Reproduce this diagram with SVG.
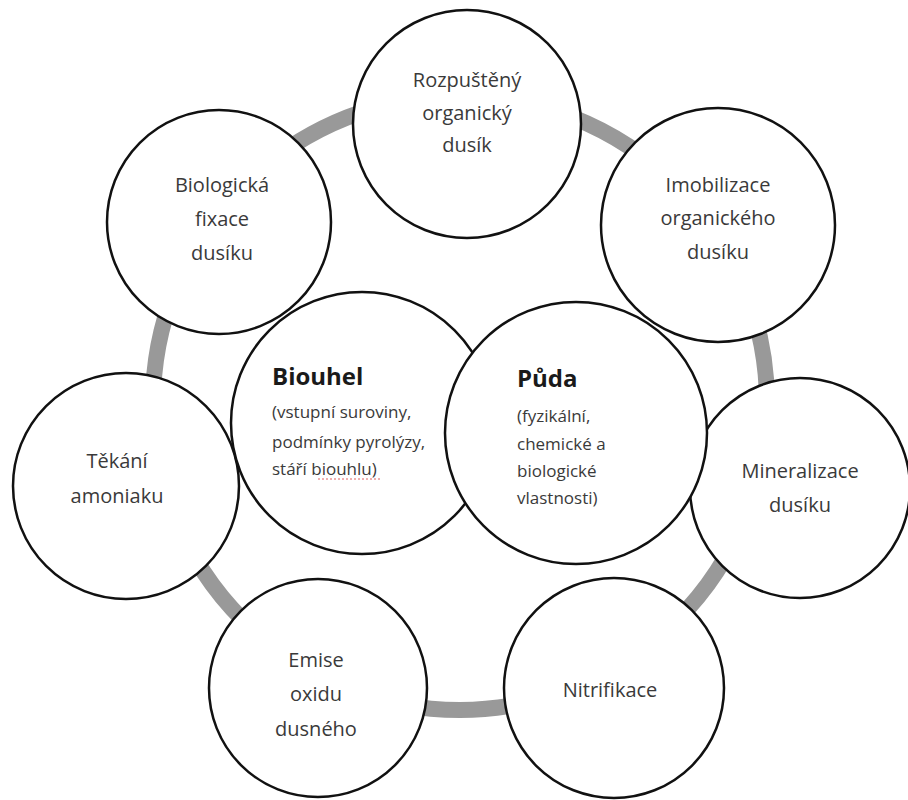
<svg xmlns="http://www.w3.org/2000/svg" width="908" height="800" viewBox="0 0 908 800">
<style>
.n{fill:#fff;stroke:#111;stroke-width:2.5}
.t{font-family:"Open Sans","Liberation Sans",sans-serif;font-size:20px;fill:#3a3a3a;text-anchor:middle}
.s{font-family:"Open Sans","Liberation Sans",sans-serif;font-size:17px;fill:#3a3a3a}
.b{font-family:"Open Sans","Liberation Sans",sans-serif;font-size:24px;font-weight:bold;fill:#1a1a1a}
</style>
<rect width="908" height="800" fill="#fff"/>
<g id="connectors">
<circle cx="460" cy="403" r="307" fill="none" stroke="#999" stroke-width="16"/>
</g>
<g id="rozpusteny">
<circle class="n" cx="467" cy="124" r="114"/>
<text class="t" x="467" y="87">Rozpuštěný</text>
<text class="t" x="467" y="120">organický</text>
<text class="t" x="467" y="152">dusík</text>
</g>
<g id="imobilizace">
<circle class="n" cx="718" cy="225" r="117"/>
<text class="t" x="718" y="192">Imobilizace</text>
<text class="t" x="718" y="225">organického</text>
<text class="t" x="718" y="259">dusíku</text>
</g>
<g id="fixace">
<circle class="n" cx="219" cy="222" r="112"/>
<text class="t" x="222" y="192">Biologická</text>
<text class="t" x="222" y="226">fixace</text>
<text class="t" x="222" y="260">dusíku</text>
</g>
<g id="tekani">
<circle class="n" cx="126" cy="486" r="113"/>
<text class="t" x="117" y="468">Těkání</text>
<text class="t" x="117" y="503">amoniaku</text>
</g>
<g id="mineralizace">
<circle class="n" cx="800" cy="488" r="110"/>
<text class="t" x="800" y="478">Mineralizace</text>
<text class="t" x="800" y="512">dusíku</text>
</g>
<g id="nitrifikace">
<circle class="n" cx="614" cy="688" r="110"/>
<text class="t" x="610" y="697">Nitrifikace</text>
</g>
<g id="emise">
<circle class="n" cx="318" cy="688" r="109"/>
<text class="t" x="316" y="667">Emise</text>
<text class="t" x="316" y="701">oxidu</text>
<text class="t" x="316" y="736">dusného</text>
</g>
<g id="biouhel">
<circle class="n" cx="362" cy="423" r="131"/>
<text class="b" x="272" y="385">Biouhel</text>
<text class="s" x="272" y="418">(vstupní suroviny,</text>
<text class="s" x="272" y="448">podmínky pyrolýzy,</text>
<text class="s" x="272" y="475">stáří biouhlu)</text>
<path d="M318 479 L382 479" stroke="#e06060" stroke-width="1" stroke-dasharray="2 2" fill="none"/>
</g>
<g id="puda">
<circle class="n" cx="576" cy="433" r="131"/>
<text class="b" x="517" y="387">Půda</text>
<text class="s" x="517" y="422">(fyzikální,</text>
<text class="s" x="517" y="450">chemické a</text>
<text class="s" x="517" y="477">biologické</text>
<text class="s" x="517" y="504">vlastnosti)</text>
</g>
</svg>
